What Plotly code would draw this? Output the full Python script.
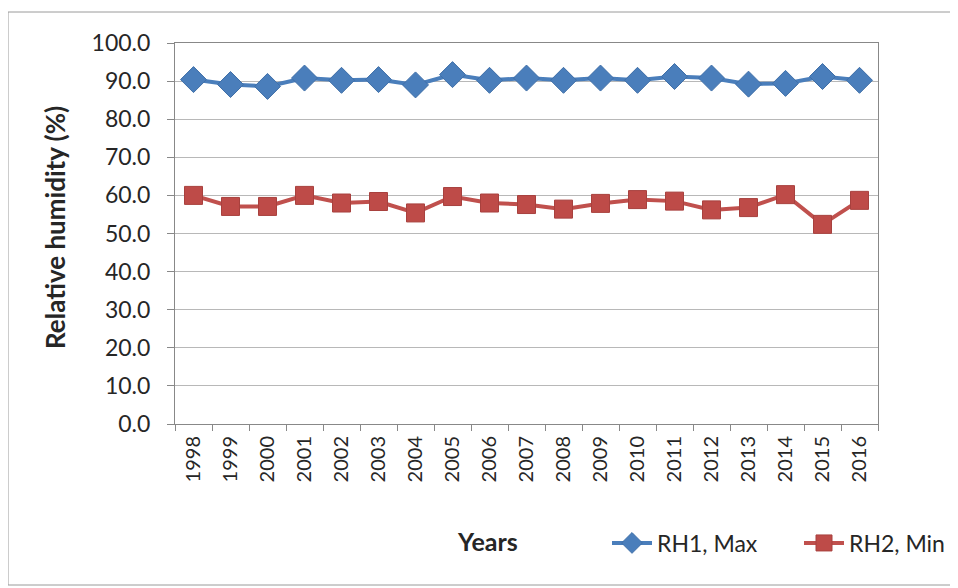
import plotly.graph_objects as go

years = [str(y) for y in range(1998, 2017)]
rh1_max = [90.4, 89.1, 88.6, 90.8, 90.2, 90.4, 89.0, 91.7, 90.2, 90.8,
           90.2, 90.8, 90.2, 91.2, 90.8, 89.2, 89.4, 91.2, 90.2]
rh2_min = [60.0, 57.1, 57.1, 60.0, 58.0, 58.4, 55.4, 59.7, 58.0, 57.6,
           56.4, 57.9, 58.9, 58.5, 56.2, 56.8, 60.2, 52.4, 58.7]
y_ticks = [0, 10, 20, 30, 40, 50, 60, 70, 80, 90, 100]

FONT = "Lato"
TXT = "#262626"
W, H = 958, 588
OFF = 8  # default body margin of the page
L, R, T, B = 175, 878, 43, 424  # plot area in screen pixels
pw, ph = R - L, B - T

def px(x):
    return (x - L) / pw

def py(y):
    return (B - y) / ph

fig = go.Figure()
fig.add_trace(go.Scatter(
    x=years, y=rh1_max, name="RH1, Max", mode="lines+markers",
    line=dict(color="#4A7EBB", width=4),
    marker=dict(symbol="diamond", size=20, color="#4A7EBB",
                line=dict(color="#3F6FA8", width=1)),
    legend="legend",
))
fig.add_trace(go.Scatter(
    x=years, y=rh2_min, name="RH2, Min", mode="lines+markers",
    line=dict(color="#C0504D", width=4),
    marker=dict(symbol="square", size=18, color="#BE4B48",
                line=dict(color="#A8413E", width=1)),
    legend="legend2",
))

leg_common = dict(orientation="h", yanchor="middle",
                  font=dict(family=FONT, size=23, color=TXT),
                  itemwidth=40, bgcolor="rgba(0,0,0,0)")

fig.update_layout(
    width=W, height=H,
    margin=dict(l=L - OFF, r=W - R + OFF, t=T - OFF, b=H - B + OFF, pad=0,
                autoexpand=False),
    paper_bgcolor="white", plot_bgcolor="white",
    font=dict(family=FONT, size=22, color=TXT),
    showlegend=True,
    legend=dict(x=px(607), y=py(543), xanchor="left", **leg_common),
    legend2=dict(x=px(950), y=py(543), xanchor="right", **leg_common),
    xaxis=dict(
        type="category", range=[-0.5, len(years) - 0.5],
        tickangle=-90, tickson="boundaries", ticks="outside", ticklen=6,
        tickcolor="#888888", showline=True, linecolor="#888888", linewidth=1,
        mirror=True, showgrid=False, tickfont=dict(size=20, color=TXT),
        ticklabelstandoff=3,
    ),
    yaxis=dict(
        range=[0, 100], tickvals=y_ticks, tickformat=".1f",
        ticks="outside", ticklen=7, tickcolor="#888888",
        showline=True, linecolor="#888888", linewidth=1, mirror=True,
        showgrid=True, gridcolor="#B8B8B8", gridwidth=1, zeroline=False,
        tickfont=dict(size=23, color=TXT), ticklabelstandoff=12,
    ),
)

fig.add_annotation(
    text="<b>Relative humidity (%)</b>", xref="paper", yref="paper",
    x=px(55), y=py(228), xanchor="center", yanchor="middle", textangle=-90,
    showarrow=False, font=dict(family=FONT, size=26, color=TXT),
)
fig.add_annotation(
    text="<b>Years</b>", xref="paper", yref="paper",
    x=px(487), y=py(541), xanchor="center", yanchor="middle",
    showarrow=False, font=dict(family=FONT, size=25, color=TXT),
)
fig.add_shape(
    type="rect", xref="paper", yref="paper",
    x0=px(8), x1=px(975), y0=py(585), y1=py(12),
    line=dict(color="#9A9A9A", width=1), fillcolor="rgba(0,0,0,0)", layer="below",
)

fig.write_html("out.html")
